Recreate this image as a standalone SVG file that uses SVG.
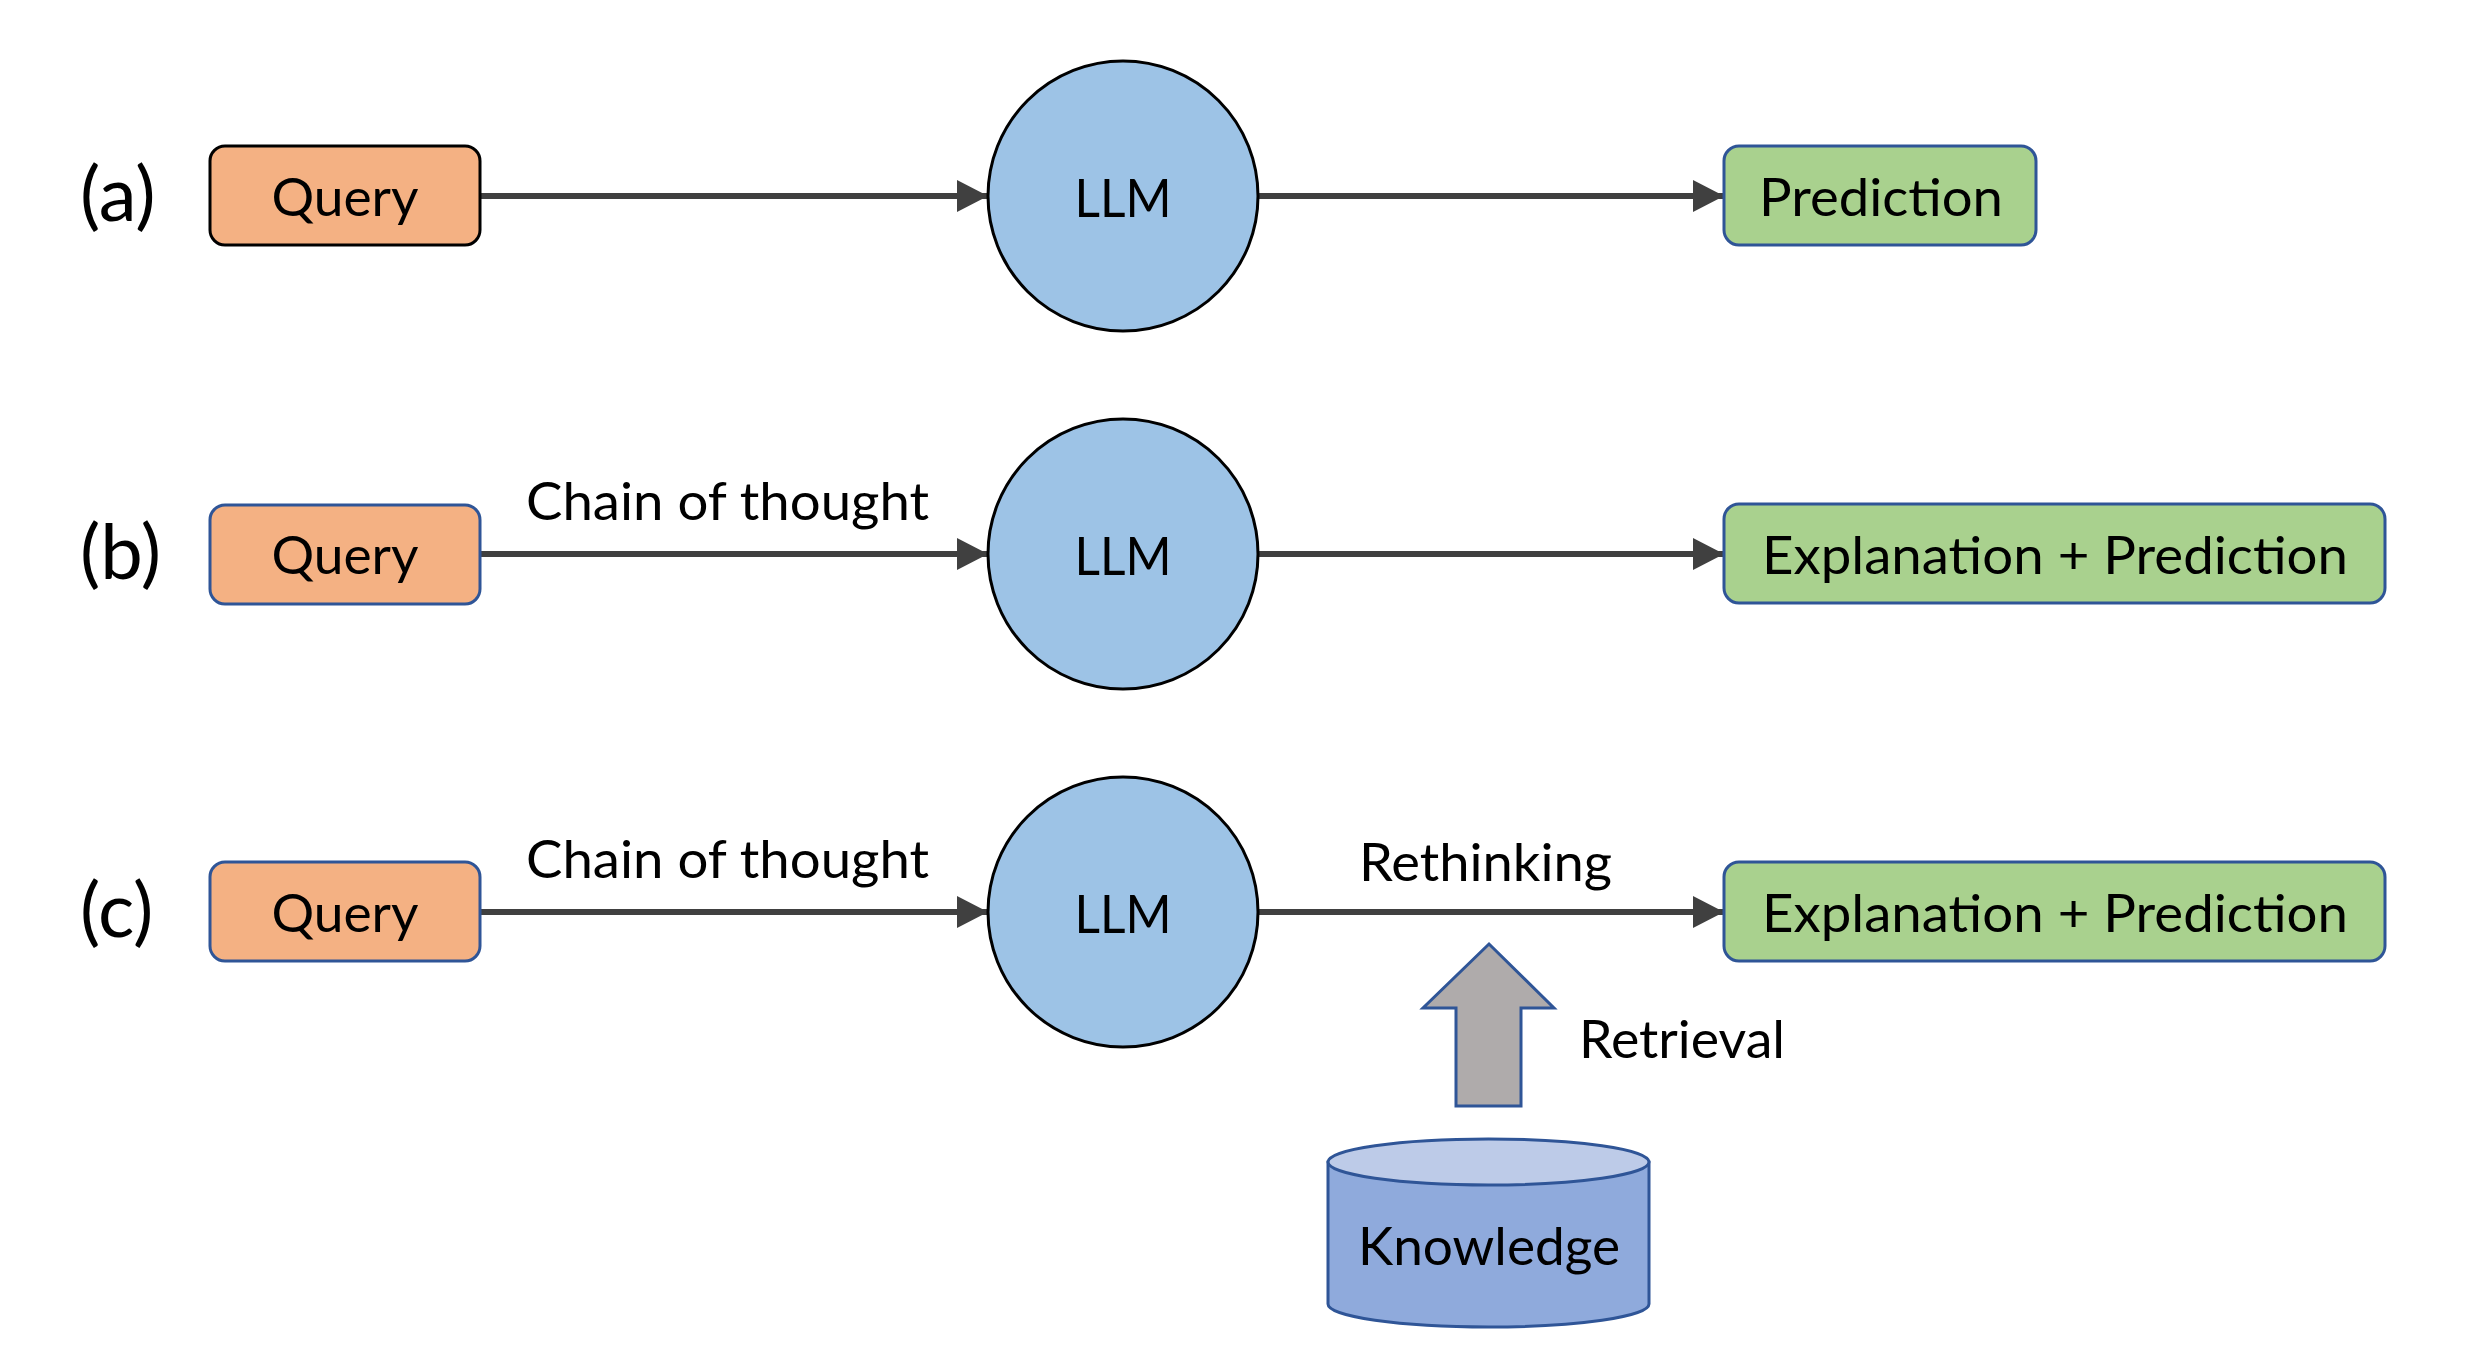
<svg xmlns="http://www.w3.org/2000/svg" width="2483" height="1357" viewBox="0 0 2483 1357">
<style>
  text { font-family: Lato, "Open Sans", "Liberation Sans", sans-serif; fill: #000; }
  .t { font-size: 52px; }
  .lbl { font-size: 76px; }
  .query { fill: #F4B183; stroke: #2F5597; stroke-width: 3; }
  .llm { fill: #9DC3E6; stroke: #000; stroke-width: 3; }
  .out { fill: #A9D18E; stroke: #2F5597; stroke-width: 3; }
  .conn { stroke: #404040; stroke-width: 6; fill: none; }
</style>
<defs>
  <marker id="arr" markerUnits="userSpaceOnUse" markerWidth="32" markerHeight="34" refX="31" refY="17" orient="auto">
    <path d="M0,1 L31,17 L0,33 Z" fill="#404040"/>
  </marker>
</defs>
<rect width="2483" height="1357" fill="#fff"/>

<!-- row labels -->
<g id="label-a"><text class="lbl" x="80" y="221">(a)</text></g>
<g id="label-b"><text class="lbl" x="80" y="579">(b)</text></g>
<g id="label-c"><text class="lbl" x="80" y="937">(c)</text></g>

<!-- connectors -->
<g id="connectors">
  <line class="conn" x1="481" y1="196" x2="988" y2="196" marker-end="url(#arr)"/>
  <line class="conn" x1="1258" y1="196" x2="1724" y2="196" marker-end="url(#arr)"/>
  <line class="conn" x1="481" y1="554" x2="988" y2="554" marker-end="url(#arr)"/>
  <line class="conn" x1="1258" y1="554" x2="1724" y2="554" marker-end="url(#arr)"/>
  <line class="conn" x1="481" y1="912" x2="988" y2="912" marker-end="url(#arr)"/>
  <line class="conn" x1="1258" y1="912" x2="1724" y2="912" marker-end="url(#arr)"/>
  <text class="t" x="526" y="520" textLength="403" lengthAdjust="spacingAndGlyphs">Chain of thought</text>
  <text class="t" x="526" y="878" textLength="403" lengthAdjust="spacingAndGlyphs">Chain of thought</text>
  <text class="t" x="1359" y="881" textLength="253" lengthAdjust="spacingAndGlyphs">Rethinking</text>
  <g id="retrieval-arrow">
    <path d="M1489,944 L1554,1008 L1521,1008 L1521,1106 L1456,1106 L1456,1008 L1423,1008 Z" fill="#AFABAB" stroke="#2F5597" stroke-width="3"/>
    <text class="t" x="1579" y="1058" textLength="206" lengthAdjust="spacingAndGlyphs">Retrieval</text>
  </g>
</g>

<!-- row a -->
<g id="query-a">
  <rect x="210" y="146" width="270" height="99" rx="15" fill="#F4B183" stroke="#000" stroke-width="3"/>
  <text class="t" x="345" y="216" text-anchor="middle" textLength="147" lengthAdjust="spacingAndGlyphs">Query</text>
</g>
<g id="llm-a">
  <circle class="llm" cx="1123" cy="196" r="135"/>
  <text class="t" x="1123" y="217" text-anchor="middle" textLength="97" lengthAdjust="spacingAndGlyphs">LLM</text>
</g>
<g id="prediction-a">
  <rect class="out" x="1724" y="146" width="312" height="99" rx="15"/>
  <text class="t" x="1881" y="216" text-anchor="middle" textLength="244" lengthAdjust="spacingAndGlyphs">Prediction</text>
</g>

<!-- row b -->
<g id="query-b">
  <rect class="query" x="210" y="505" width="270" height="99" rx="15"/>
  <text class="t" x="345" y="574" text-anchor="middle" textLength="147" lengthAdjust="spacingAndGlyphs">Query</text>
</g>
<g id="llm-b">
  <circle class="llm" cx="1123" cy="554" r="135"/>
  <text class="t" x="1123" y="575" text-anchor="middle" textLength="97" lengthAdjust="spacingAndGlyphs">LLM</text>
</g>
<g id="output-b">
  <rect class="out" x="1724" y="504" width="661" height="99" rx="15"/>
  <text class="t" x="2055" y="574" text-anchor="middle" textLength="586" lengthAdjust="spacingAndGlyphs">Explanation + Prediction</text>
</g>

<!-- row c -->
<g id="query-c">
  <rect class="query" x="210" y="862" width="270" height="99" rx="15"/>
  <text class="t" x="345" y="932" text-anchor="middle" textLength="147" lengthAdjust="spacingAndGlyphs">Query</text>
</g>
<g id="llm-c">
  <circle class="llm" cx="1123" cy="912" r="135"/>
  <text class="t" x="1123" y="933" text-anchor="middle" textLength="97" lengthAdjust="spacingAndGlyphs">LLM</text>
</g>
<g id="output-c">
  <rect class="out" x="1724" y="862" width="661" height="99" rx="15"/>
  <text class="t" x="2055" y="932" text-anchor="middle" textLength="586" lengthAdjust="spacingAndGlyphs">Explanation + Prediction</text>
</g>

<!-- knowledge cylinder -->
<g id="knowledge">
  <path d="M1328,1162 L1328,1304 A160.5,23 0 0 0 1649,1304 L1649,1162 Z" fill="#8FAADC" stroke="#2F5597" stroke-width="3"/>
  <ellipse cx="1488.5" cy="1162" rx="160.5" ry="23" fill="#BDCBE8" stroke="#2F5597" stroke-width="3"/>
  <text class="t" x="1489" y="1265" text-anchor="middle" textLength="262" lengthAdjust="spacingAndGlyphs">Knowledge</text>
</g>
</svg>
